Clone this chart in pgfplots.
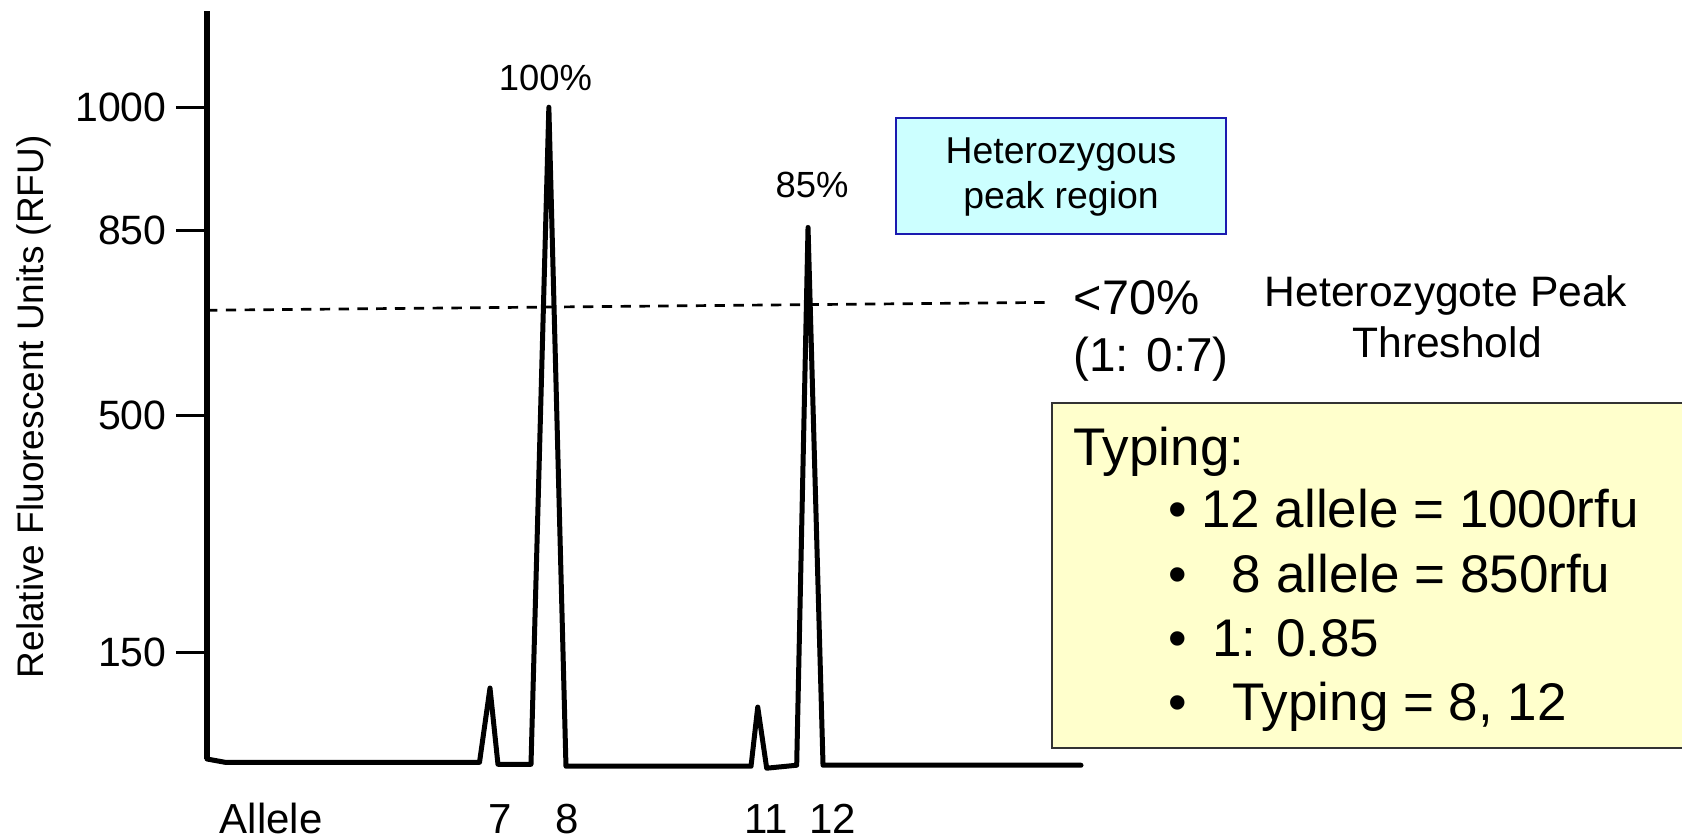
\documentclass[border=0pt]{standalone}
\usepackage{fontspec}
\setmainfont{Liberation Sans}
\usepackage{pgfplots}
\pgfplotsset{compat=1.18}
\definecolor{cyanfill}{HTML}{CCFFFF}
\definecolor{cyanborder}{HTML}{1A1AB0}
\definecolor{yellowfill}{HTML}{FFFFCC}
\definecolor{yellowborder}{HTML}{333333}
\begin{document}
\begin{tikzpicture}
\begin{axis}[
  at={(103.5pt,-379.5pt)}, anchor=south west,
  scale only axis, width=437.1pt, height=373.85pt,
  xmin=2.575, xmax=15.75, ymin=8, ymax=1146,
  clip=false,
  axis x line=bottom, axis y line=left,
  x axis line style={draw=none},
  y axis line style={-, line width=2.6pt, black},
  xtick={3.54,7,8,11,12}, xticklabels={Allele,7,8,11,12},
  ytick={170.5,531,812,1000}, yticklabels={150,500,850,1000},
  tick align=outside, major tick length=15.5pt,
  xtick style={draw=none},
  ytick style={line width=1.6pt, black},
  xticklabel style={font=\fontsize{21}{25}\selectfont, anchor=base, inner sep=0pt, yshift=-21.5pt},
  yticklabel style={font=\fontsize{20.5}{24}\selectfont, anchor=east, inner sep=0pt, xshift=-4.5pt},
  /pgf/number format/assume math mode=true,
  ylabel={Relative Fluorescent Units (RFU)},
  every axis y label/.style={at={(axis description cs:-0.198,0.471)}, rotate=90, anchor=center, font=\fontsize{18.5}{22}\selectfont},
]
% threshold line
\addplot[black, line width=1.35pt, dash pattern=on 5.2pt off 4.2pt] coordinates {(2.575,691) (15.28,703)};
% electropherogram trace
\addplot[black, line width=2.5pt, line join=round, line cap=round] coordinates {
(2.575,8) (2.846,3) (6.682,3) (6.840,116) (6.960,0) (7.458,0) (7.727,1000) (7.985,-3)
(10.774,-3) (10.875,87) (11.010,-6) (11.462,-1.5) (11.633,817) (11.859,-1.5) (15.747,-1.5)};
\end{axis}
\begin{scope}[x=0.5pt,y=-0.5pt]
\node[font=\fontsize{18.2}{22}\selectfont, anchor=base, inner sep=0pt] at (545.5,91) {100\%};
\node[font=\fontsize{18.2}{22}\selectfont, anchor=base, inner sep=0pt] at (812,198) {85\%};
\draw[cyanborder, line width=1.25pt, fill=cyanfill] (896,118) rectangle (1226,234);
\node[font=\fontsize{18.7}{22}\selectfont, anchor=base, inner sep=0pt] at (1061,163.3) {Heterozygous};
\node[font=\fontsize{18.7}{22}\selectfont, anchor=base, inner sep=0pt] at (1061,208.3) {peak region};
\node[font=\fontsize{24.3}{28}\selectfont, anchor=base west, inner sep=0pt] at (1073.5,315) {<70\%};
\node[font=\fontsize{23.8}{28}\selectfont, anchor=base west, inner sep=0pt] at (1073,372) {(1: 0:7)};
\node[font=\fontsize{21.3}{24}\selectfont, anchor=base, inner sep=0pt] at (1446,306.7) {Heterozygote Peak};
\node[font=\fontsize{21.3}{24}\selectfont, anchor=base, inner sep=0pt] at (1447,358) {Threshold};
\draw[yellowborder, line width=1pt, fill=yellowfill] (1052,403) rectangle (1700,748);
\node[font=\fontsize{26.5}{30}\selectfont, anchor=base west, inner sep=0pt] at (1073,466) {Typing:};
\foreach \yy in {528,592,656.7,720}{
  \node[font=\fontsize{26.5}{30}\selectfont, anchor=base, inner sep=0pt] at (1178,\yy) {•};
}
\node[font=\fontsize{26.5}{30}\selectfont, anchor=base west, inner sep=0pt] at (1200.9,528) {12 allele = 1000rfu};
\node[font=\fontsize{26.5}{30}\selectfont, anchor=base west, inner sep=0pt] at (1231.5,592) {8 allele = 850rfu};
\node[font=\fontsize{26.5}{30}\selectfont, anchor=base west, inner sep=0pt] at (1212,656.7) {1: 0.85};
\node[font=\fontsize{26.5}{30}\selectfont, anchor=base west, inner sep=0pt] at (1232,720) {Typing = 8, 12};
\end{scope}
\pgfresetboundingbox
\path[use as bounding box] (0,0) rectangle (841pt,-419.5pt);
\end{tikzpicture}
\end{document}
